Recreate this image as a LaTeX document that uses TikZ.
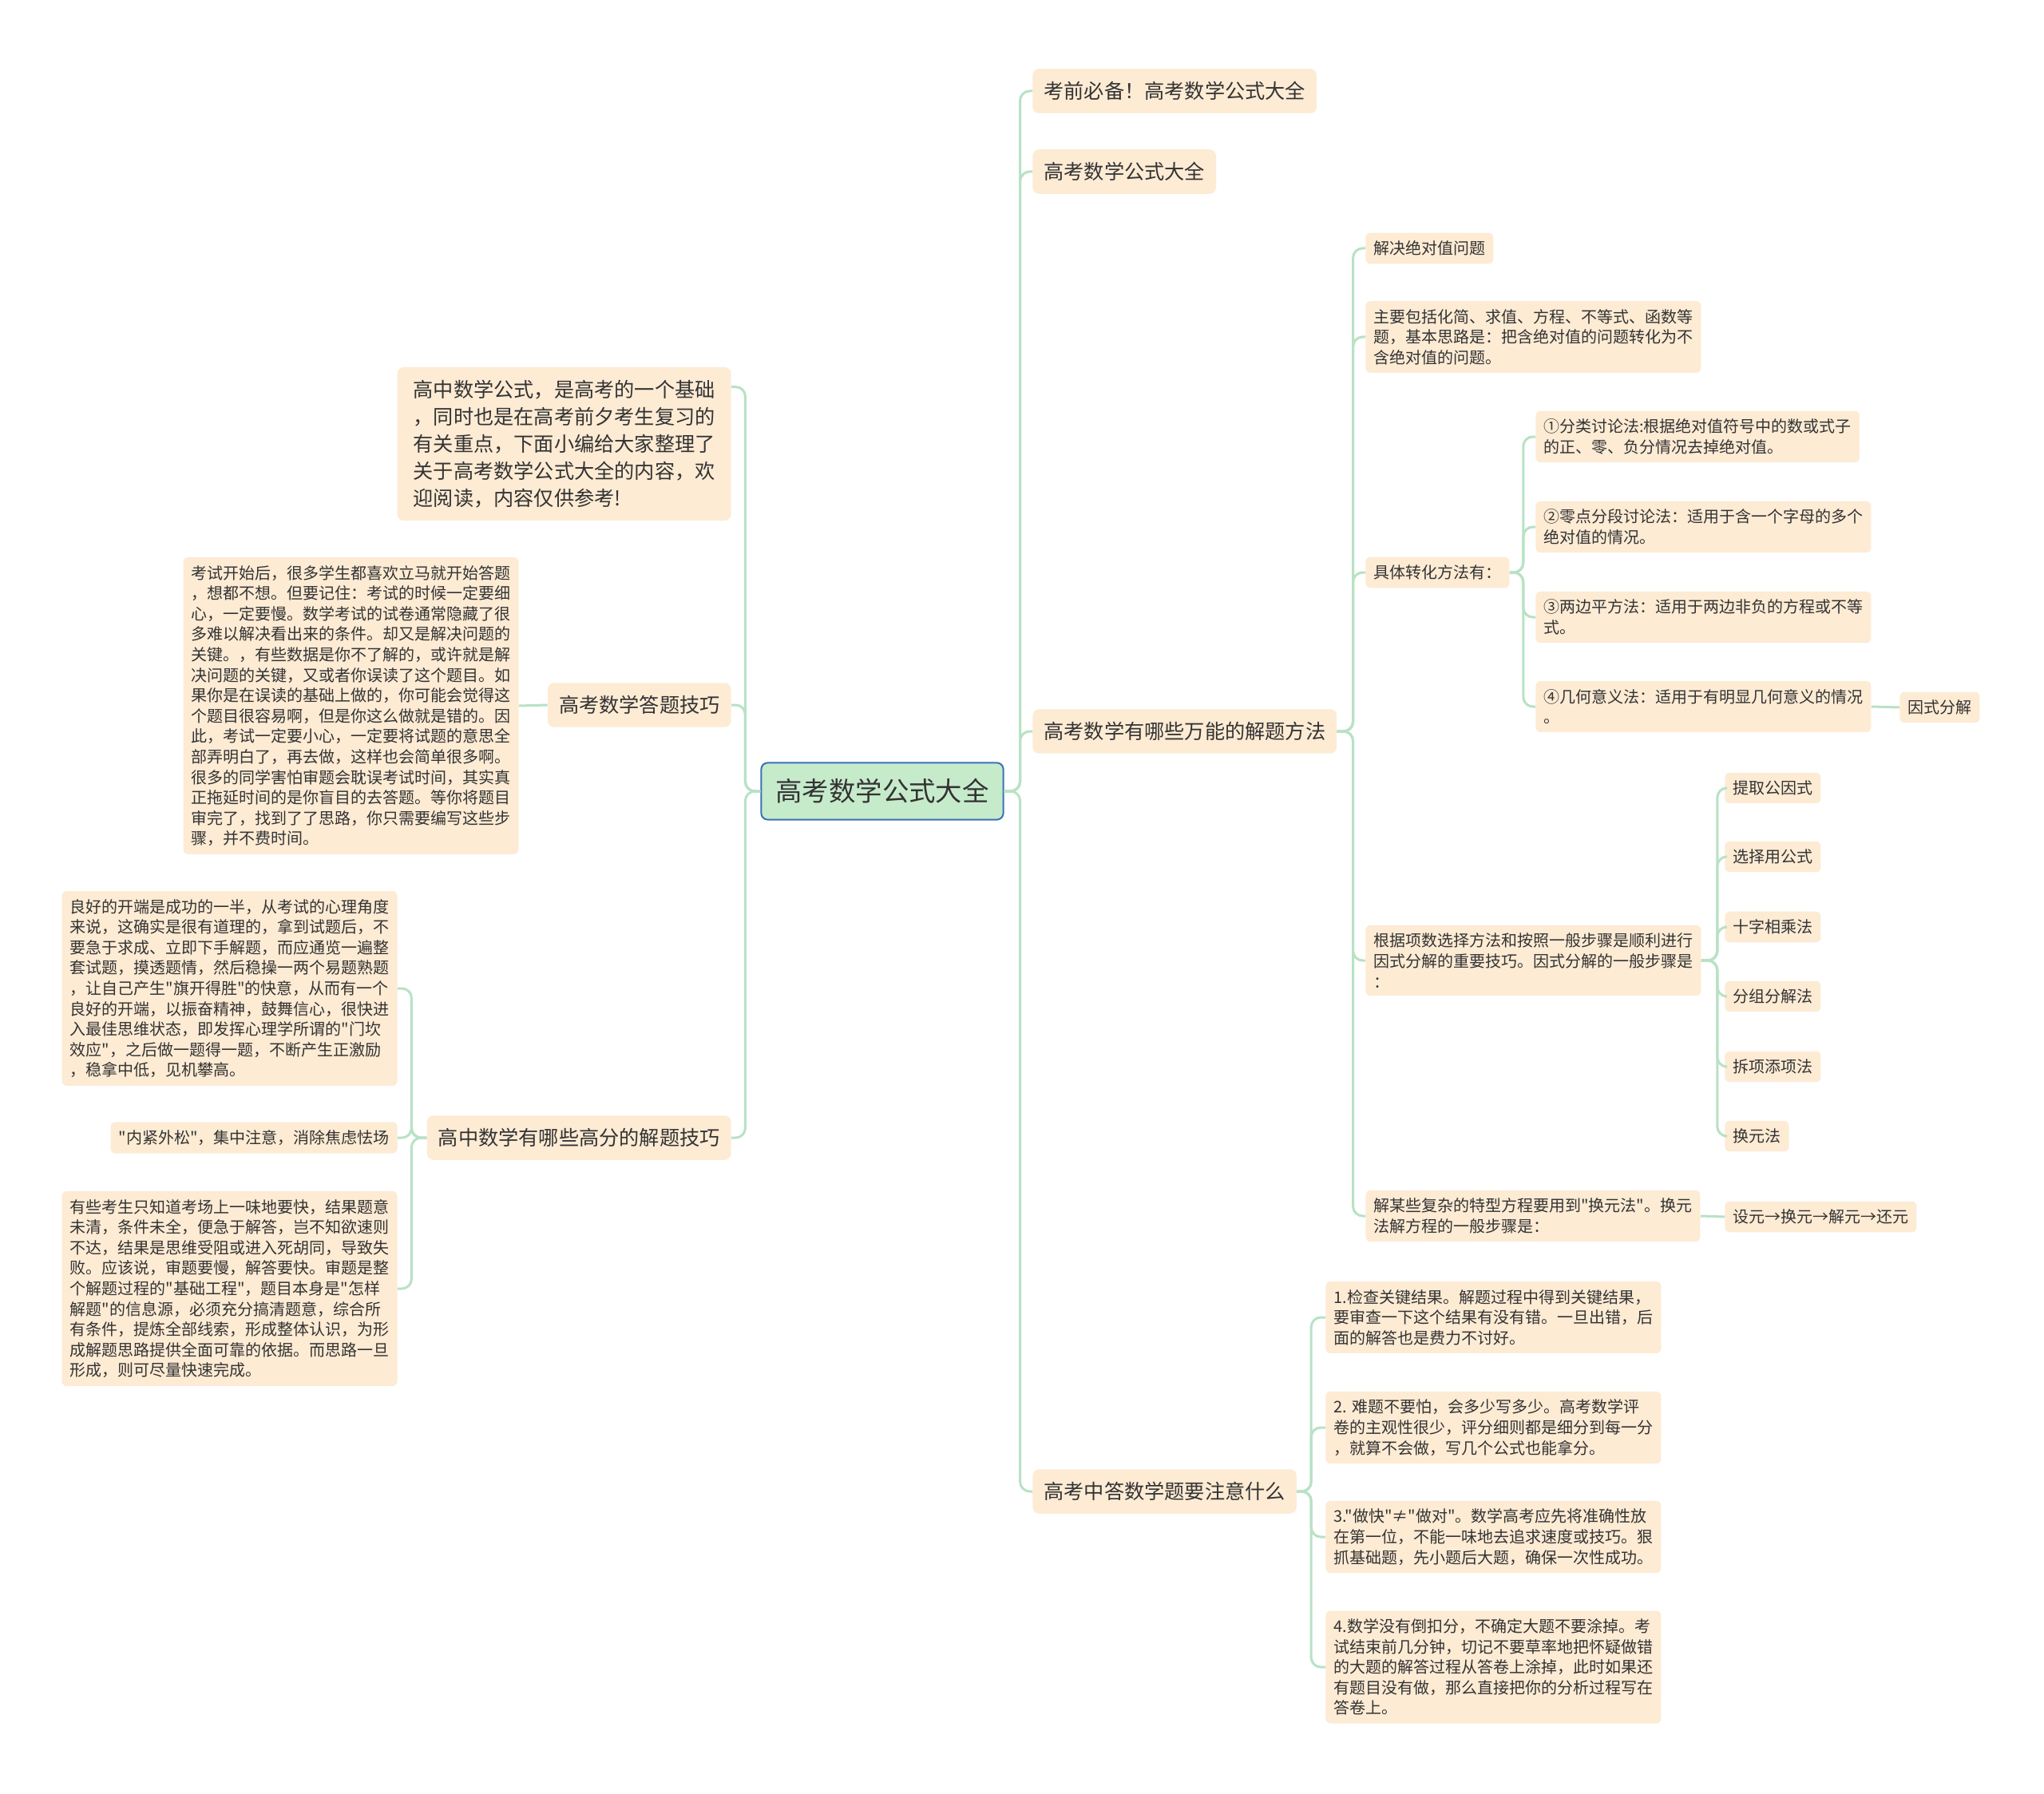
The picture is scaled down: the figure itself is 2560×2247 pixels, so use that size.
\documentclass[tikz,border=0pt]{standalone}
\usepackage{fontspec}
\setmainfont{Noto Sans CJK SC}[Ligatures=TeXOff]
\usepackage{xcolor}
\usetikzlibrary{positioning}
\definecolor{peach}{HTML}{FDEBD4}
\definecolor{mint}{HTML}{C6EBCB}
\definecolor{rootline}{HTML}{3A72B5}
\definecolor{twig}{HTML}{B8E2C4}
\definecolor{ink}{HTML}{333333}

\begin{document}
\begin{tikzpicture}[
  x=0.5pt,y=-0.5pt,
  node distance=6pt and 9pt,
  root/.style={draw=rootline,line width=1pt,rounded corners=4pt,fill=mint,text=ink,inner xsep=9pt,inner ysep=10pt,font=\fontsize{16.7}{20}\selectfont},
  topic/.style={fill=peach,rounded corners=4pt,text=ink,align=left,inner xsep=7pt,inner ysep=8pt,font=\fontsize{12.6}{17}\selectfont},
  leaf/.style={fill=peach,rounded corners=3pt,text=ink,align=left,inner xsep=5pt,inner ysep=5pt,font=\fontsize{10}{12.8}\selectfont},
  ln/.style={draw=twig,line width=1.5pt,rounded corners=6pt},
  branchto/.style={to path={-- ++(#1,0) |- (\tikztotarget)}}
]
\fill[white] (0,0) rectangle (2560,2247);
\useasboundingbox (0,0) rectangle (2560,2247);

\node[root] (root) at (1105,991) {高考数学公式大全};

\node[topic,anchor=west] (pre) at (1293,114) {考前必备！高考数学公式大全};
\node[topic,anchor=west] (formula) at (1293,215) {高考数学公式大全};
\node[topic,anchor=west] (method) at (1293,916) {高考数学有哪些万能的解题方法};
\node[topic,anchor=west] (notes) at (1293,1868) {高考中答数学题要注意什么};

\node[topic,anchor=east,inner xsep=10pt] (intro) at (916,556) {高中数学公式，是高考的一个基础\\，同时也是在高考前夕考生复习的\\有关重点，下面小编给大家整理了\\关于高考数学公式大全的内容，欢\\迎阅读，内容仅供参考!};
\node[topic,anchor=east] (tips) at (916,883) {高考数学答题技巧};
\node[topic,anchor=east] (gaofen) at (916,1425) {高中数学有哪些高分的解题技巧};
\coordinate (introtop) at ([yshift=-12.5pt]intro.north east);

\node[leaf,anchor=east] (tipstext) at (650,884) {考试开始后，很多学生都喜欢立马就开始答题\\，想都不想。但要记住：考试的时候一定要细\\心，一定要慢。数学考试的试卷通常隐藏了很\\多难以解决看出来的条件。却又是解决问题的\\关键。，有些数据是你不了解的，或许就是解\\决问题的关键，又或者你误读了这个题目。如\\果你是在误读的基础上做的，你可能会觉得这\\个题目很容易啊，但是你这么做就是错的。因\\此，考试一定要小心，一定要将试题的意思全\\部弄明白了，再去做，这样也会简单很多啊。\\很多的同学害怕审题会耽误考试时间，其实真\\正拖延时间的是你盲目的去答题。等你将题目\\审完了，找到了了思路，你只需要编写这些步\\骤，并不费时间。};

\node[leaf,anchor=east] (gf1) at (498,1238) {良好的开端是成功的一半，从考试的心理角度\\来说，这确实是很有道理的，拿到试题后，不\\要急于求成、立即下手解题，而应通览一遍整\\套试题，摸透题情，然后稳操一两个易题熟题\\，让自己产生"旗开得胜"的快意，从而有一个\\良好的开端，以振奋精神，鼓舞信心，很快进\\入最佳思维状态，即发挥心理学所谓的"门坎\\效应"，之后做一题得一题，不断产生正激励\\，稳拿中低，见机攀高。};
\node[leaf,anchor=east] (gf2) at (498,1425) {"内紧外松"，集中注意，消除焦虑怯场};
\node[leaf,anchor=east] (gf3) at (498,1614) {有些考生只知道考场上一味地要快，结果题意\\未清，条件未全，便急于解答，岂不知欲速则\\不达，结果是思维受阻或进入死胡同，导致失\\败。应该说，审题要慢，解答要快。审题是整\\个解题过程的"基础工程"，题目本身是"怎样\\解题"的信息源，必须充分搞清题意，综合所\\有条件，提炼全部线索，形成整体认识，为形\\成解题思路提供全面可靠的依据。而思路一旦\\形成，则可尽量快速完成。};

\node[leaf,anchor=west] (abs) at (1710,311) {解决绝对值问题};
\node[leaf,anchor=west] (absmain) at (1710,422) {主要包括化简、求值、方程、不等式、函数等\\题，基本思路是：把含绝对值的问题转化为不\\含绝对值的问题。};
\node[leaf,anchor=west] (absway) at (1710,717) {具体转化方法有：};
\node[leaf,anchor=west] (fstep) at (1710,1203) {根据项数选择方法和按照一般步骤是顺利进行\\因式分解的重要技巧。因式分解的一般步骤是\\：};
\node[leaf,anchor=west] (subst) at (1710,1523) {解某些复杂的特型方程要用到"换元法"。换元\\法解方程的一般步骤是：};

\node[leaf,anchor=west] (way1) at (1923,547) {①分类讨论法:根据绝对值符号中的数或式子\\的正、零、负分情况去掉绝对值。};
\node[leaf,anchor=west] (way2) at (1923,660) {②零点分段讨论法：适用于含一个字母的多个\\绝对值的情况。};
\node[leaf,anchor=west] (way3) at (1923,773) {③两边平方法：适用于两边非负的方程或不等\\式。};
\node[leaf,anchor=west] (way4) at (1923,885) {④几何意义法：适用于有明显几何意义的情况\\。};
\node[leaf,anchor=west] (yinshi) at (2379,886) {因式分解};

\node[leaf,anchor=west] (fs1) at (2160,987) {提取公因式};
\node[leaf,anchor=west] (fs2) at (2160,1073) {选择用公式};
\node[leaf,anchor=west] (fs3) at (2160,1161) {十字相乘法};
\node[leaf,anchor=west] (fs4) at (2160,1248) {分组分解法};
\node[leaf,anchor=west] (fs5) at (2160,1336) {拆项添项法};
\node[leaf,anchor=west] (fs6) at (2160,1423) {换元法};
\node[leaf,anchor=west] (substeps) at (2160,1524) {设元→换元→解元→还元};

\node[leaf,anchor=west] (note1) at (1660,1650) {1.检查关键结果。解题过程中得到关键结果，\\要审查一下这个结果有没有错。一旦出错，后\\面的解答也是费力不讨好。};
\node[leaf,anchor=west] (note2) at (1660,1788) {2. 难题不要怕，会多少写多少。高考数学评\\卷的主观性很少，评分细则都是细分到每一分\\，就算不会做，写几个公式也能拿分。};
\node[leaf,anchor=west] (note3) at (1660,1925) {3."做快"≠"做对"。数学高考应先将准确性放\\在第一位，不能一味地去追求速度或技巧。狠\\抓基础题，先小题后大题，确保一次性成功。};
\node[leaf,anchor=west] (note4) at (1660,2088) {4.数学没有倒扣分，不确定大题不要涂掉。考\\试结束前几分钟，切记不要草率地把怀疑做错\\的大题的解答过程从答卷上涂掉，此时如果还\\有题目没有做，那么直接把你的分析过程写在\\答卷上。};

\foreach \n in {pre,formula,method,notes} \draw[ln] (root.east) to[branchto=20] (\n.west);
\draw[ln] (root.west) to[branchto=-19] (introtop);
\foreach \n in {tips,gaofen} \draw[ln] (root.west) to[branchto=-19] (\n.east);
\draw[ln] (tips.west) -- (tipstext.east);
\foreach \n in {gf1,gf2,gf3} \draw[ln] (gaofen.west) to[branchto=-19] (\n.east);
\foreach \n in {abs,absmain,absway,fstep,subst} \draw[ln] (method.east) to[branchto=20] (\n.west);
\foreach \n in {way1,way2,way3,way4} \draw[ln] (absway.east) to[branchto=17] (\n.west);
\draw[ln] (way4.east) -- (yinshi.west);
\foreach \n in {fs1,fs2,fs3,fs4,fs5,fs6} \draw[ln] (fstep.east) to[branchto=20] (\n.west);
\draw[ln] (subst.east) -- (substeps.west);
\foreach \n in {note1,note2,note3,note4} \draw[ln] (notes.east) to[branchto=18] (\n.west);
\end{tikzpicture}
\end{document}
